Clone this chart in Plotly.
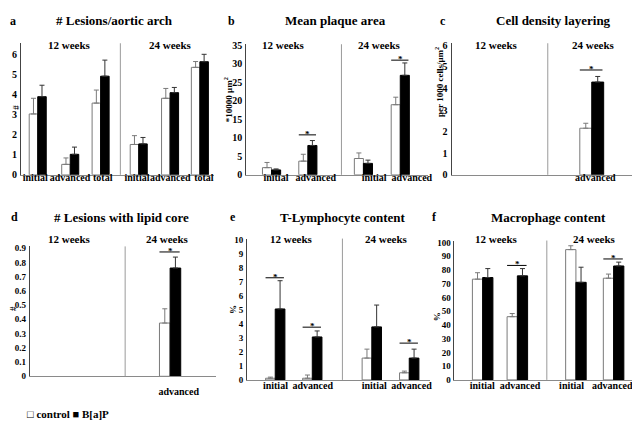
import plotly.graph_objects as go

W, H = 640, 429
FONT = "Liberation Serif, Times New Roman, DejaVu Serif, serif"

# ---------------- data ----------------
# a: # Lesions / aortic arch
a_labels = ["initial", "advanced", "total", "initial", "advanced", "total"]
a_control = [3.03, 0.52, 3.57, 1.51, 3.81, 5.35]
a_control_sem = [0.78, 0.32, 0.65, 0.44, 0.49, 0.29]
a_bap = [3.89, 1.02, 4.91, 1.54, 4.09, 5.63]
a_bap_sem = [0.57, 0.36, 0.80, 0.32, 0.26, 0.37]
a_sig_idx = []
a_sig_y = []

# b: Mean plaque area (*10000 um2)
b_labels = ["initial", "advanced", "initial", "advanced"]
b_control = [1.94, 3.70, 4.41, 18.95]
b_control_sem = [1.40, 1.85, 1.50, 2.03]
b_bap = [1.32, 7.93, 3.09, 26.89]
b_bap_sem = [0.27, 1.33, 0.88, 3.35]
b_sig_idx = [1, 3]
b_sig_y = [10.8, 31.0]

# c: Cell density layering
c_labels = ["advanced"]
c_control = [2.16]
c_control_sem = [0.23]
c_bap = [4.30]
c_bap_sem = [0.26]
c_sig_idx = [0]
c_sig_y = [4.86]

# d: # Lesions with lipid core
d_labels = ["advanced"]
d_control = [0.374]
d_control_sem = [0.10]
d_bap = [0.76]
d_bap_sem = [0.077]
d_sig_idx = [0]
d_sig_y = [0.873]

# e: T-Lymphocyte content (%)
e_labels = ["initial", "advanced", "initial", "advanced"]
e_control = [0.12, 0.12, 1.56, 0.51]
e_control_sem = [0.08, 0.23, 0.64, 0.12]
e_bap = [5.07, 3.07, 3.79, 1.56]
e_bap_sem = [2.02, 0.43, 1.56, 0.64]
e_sig_idx = [0, 1, 3]
e_sig_y = [7.3, 3.77, 2.63]

# f: Macrophage content (%)
f_labels = ["initial", "advanced", "initial", "advanced"]
f_control = [73.3, 46.0, 94.8, 74.0]
f_control_sem = [4.7, 2.3, 2.8, 3.0]
f_bap = [74.5, 75.7, 71.0, 82.9]
f_bap_sem = [6.5, 5.3, 11.0, 2.8]
f_sig_idx = [1, 3]
f_sig_y = [83.3, 88.0]

# ---------------- layout per panel (pixel geometry) ----------------
panels = [
    dict(letter="a", title="# Lesions/aortic arch", ytitle="#",
         labels=a_labels, control=a_control, csem=a_control_sem, bap=a_bap, bsem=a_bap_sem,
         sig_idx=a_sig_idx, sig_y=a_sig_y,
         xpx=(13, 208), ypx=(166.7, 32), yrange=(0, 6.55), dtick=1, tfs=10,
         pos=[0.087, 0.255, 0.412, 0.609, 0.771, 0.925], bw=0.044, div=0.514,
         lpos=[0.074, 0.254, 0.423, 0.60, 0.772, 0.946],
         letter_xy=(5, 9), title_xy=(107, 9), w12=(62, 34), w24=(164, 34),
         ytitle_xy=(8, 97), xlab_standoff=-7),
    dict(letter="b", title="Mean plaque area", ytitle="*10000 μm<sup>2</sup>",
         labels=b_labels, control=b_control, csem=b_control_sem, bap=b_bap, bsem=b_bap_sem,
         sig_idx=b_sig_idx, sig_y=b_sig_y,
         xpx=(240, 423), ypx=(166.7, 33), yrange=(0, 35.3), dtick=5, tfs=10,
         pos=[0.14, 0.34, 0.646, 0.849], bw=0.05, div=0.525,
         lpos=[0.164, 0.383, 0.705, 0.913],
         letter_xy=(225, 9), title_xy=(330, 9), w12=(278, 34), w24=(374, 34),
         ytitle_xy=(222, 90), xlab_standoff=-7),
    dict(letter="c", title="Cell density layering", ytitle="per 1000 cells/μm<sup>2</sup>",
         labels=c_labels, control=c_control, csem=c_control_sem, bap=c_bap, bsem=c_bap_sem,
         sig_idx=c_sig_idx, sig_y=c_sig_y,
         xpx=(447, 638), ypx=(166.7, 32), yrange=(0, 6.1), dtick=1, tfs=10,
         pos=[0.74], bw=0.063, div=0.508,
         lpos=[0.759],
         letter_xy=(438, 9), title_xy=(550, 9), w12=(492, 34), w24=(590, 34),
         ytitle_xy=(435, 72), xlab_standoff=-7),
    dict(letter="d", title="# Lesions with lipid core", ytitle="#",
         labels=d_labels, control=d_control, csem=d_control_sem, bap=d_bap, bsem=d_bap_sem,
         sig_idx=d_sig_idx, sig_y=d_sig_y,
         xpx=(22, 210), ypx=(373, 240), yrange=(0, 0.912), dtick=0.1, tfs=9,
         pos=[0.752], bw=0.057, div=0.511,
         lpos=[0.798],
         letter_xy=(7, 210), title_xy=(114, 210), w12=(62, 232), w24=(161, 232),
         ytitle_xy=(5, 303), xlab_standoff=6),
    dict(letter="e", title="T-Lymphocyte content", ytitle="%",
         labels=e_labels, control=e_control, csem=e_control_sem, bap=e_bap, bsem=e_bap_sem,
         sig_idx=e_sig_idx, sig_y=e_sig_y,
         xpx=(241, 425), ypx=(376.7, 232), yrange=(0, 10.1), dtick=1, tfs=9,
         pos=[0.154, 0.357, 0.683, 0.888], bw=0.053, div=0.522,
         lpos=[0.155, 0.359, 0.696, 0.90],
         letter_xy=(227, 210), title_xy=(337, 210), w12=(286, 232), w24=(381, 232),
         ytitle_xy=(227, 305), xlab_standoff=-4),
    dict(letter="f", title="Macrophage content", ytitle="%",
         labels=f_labels, control=f_control, csem=f_control_sem, bap=f_bap, bsem=f_bap_sem,
         sig_idx=f_sig_idx, sig_y=f_sig_y,
         xpx=(450, 638), ypx=(376.7, 234), yrange=(0, 101.4), dtick=10, tfs=9,
         pos=[0.151, 0.337, 0.651, 0.853], bw=0.055, div=0.495,
         lpos=[0.149, 0.351, 0.628, 0.846],
         letter_xy=(430, 210), title_xy=(545, 210), w12=(492, 232), w24=(591, 232),
         ytitle_xy=(432, 312), xlab_standoff=-4),
]


def px_x(v):
    return v / W


def px_y(v):
    return 1 - v / H


def bold(t):
    return "<b>" + t + "</b>"


fig = go.Figure()
annotations = []
shapes = []
layout_axes = {}

for i, p in enumerate(panels, start=1):
    xa = "x" if i == 1 else "x%d" % i
    ya = "y" if i == 1 else "y%d" % i
    bw = p["bw"]
    # control bars
    fig.add_trace(go.Bar(
        x=p["pos"], y=p["control"], width=bw, offset=-bw,
        marker=dict(color="white", line=dict(color="#7a7a7a", width=1)),
        error_y=dict(type="data", symmetric=False, array=p["csem"],
                     arrayminus=[0] * len(p["csem"]), color="#7a7a7a",
                     thickness=1, width=2.5),
        xaxis=xa, yaxis=ya, showlegend=False, name="control"))
    # B[a]P bars
    fig.add_trace(go.Bar(
        x=p["pos"], y=p["bap"], width=bw, offset=0,
        marker=dict(color="black", line=dict(color="black", width=1)),
        error_y=dict(type="data", symmetric=False, array=p["bsem"],
                     arrayminus=[0] * len(p["bsem"]), color="#333",
                     thickness=1, width=2.5),
        xaxis=xa, yaxis=ya, showlegend=False, name="B[a]P"))
    # significance lines
    if p["sig_idx"]:
        sx, sy = [], []
        for k, yv in zip(p["sig_idx"], p["sig_y"]):
            c = p["pos"][k]
            sx += [c - bw, c + bw * 0.9, None]
            sy += [yv, yv, None]
            annotations.append(dict(
                x=c, y=yv, xref=xa, yref=ya, text="*", showarrow=False,
                yanchor="middle", yshift=1,
                font=dict(family=FONT, size=9, color="black")))
        fig.add_trace(go.Scatter(
            x=sx, y=sy, mode="lines", line=dict(color="black", width=1),
            xaxis=xa, yaxis=ya, showlegend=False, hoverinfo="skip"))

    x0, x1 = p["xpx"]
    yb, yt = p["ypx"]
    layout_axes["xaxis" if i == 1 else "xaxis%d" % i] = dict(
        domain=[px_x(x0), px_x(x1)], range=[0, 1], anchor=ya,
        showline=True, linecolor="#8a8a8a", linewidth=1,
        showgrid=False, zeroline=False, ticks="", tickangle=0,
        tickvals=p["lpos"], ticktext=p["labels"],
        tickfont=dict(family=FONT, size=10, color="black", weight="bold"),
        ticklabelstandoff=p["xlab_standoff"], fixedrange=True)
    layout_axes["yaxis" if i == 1 else "yaxis%d" % i] = dict(
        domain=[px_y(yb), px_y(yt)], range=list(p["yrange"]), anchor=xa,
        showline=True, linecolor="#444", linewidth=1,
        showgrid=False, zeroline=False, ticks="", dtick=p["dtick"], tick0=0,
        tickfont=dict(family=FONT, size=p["tfs"], color="black", weight="bold"),
        ticklabelstandoff=1, fixedrange=True)

    # divider between 12 and 24 weeks
    shapes.append(dict(type="line", xref=xa, yref=ya + " domain",
                       x0=p["div"], x1=p["div"], y0=0, y1=1,
                       line=dict(color="#9a9a9a", width=1)))

    def ann(xy, text, size, angle=0):
        annotations.append(dict(
            x=px_x(xy[0]), y=px_y(xy[1]), xref="paper", yref="paper",
            text=bold(text), showarrow=False, xanchor="center", yanchor="middle",
            textangle=angle, font=dict(family=FONT, size=size, color="black")))

    ann(p["letter_xy"], p["letter"], 12)
    ann(p["title_xy"], p["title"], 13)
    ann(p["w12"], "12 weeks", 11)
    ann(p["w24"], "24 weeks", 11)
    ann(p["ytitle_xy"], p["ytitle"], 9, -90)

# legend text
annotations.append(dict(
    x=px_x(17), y=px_y(412), xref="paper", yref="paper",
    text="<b>□ control ■ B[a]P</b>", showarrow=False,
    xanchor="left", yanchor="middle",
    font=dict(family=FONT, size=11, color="black")))

fig.update_layout(
    width=W, height=H, margin=dict(l=0, r=0, t=0, b=0),
    paper_bgcolor="white", plot_bgcolor="white",
    barmode="overlay", showlegend=False,
    font=dict(family=FONT, size=10, color="black", weight="bold"),
    annotations=annotations, shapes=shapes, **layout_axes)

fig.write_html("out.html")
